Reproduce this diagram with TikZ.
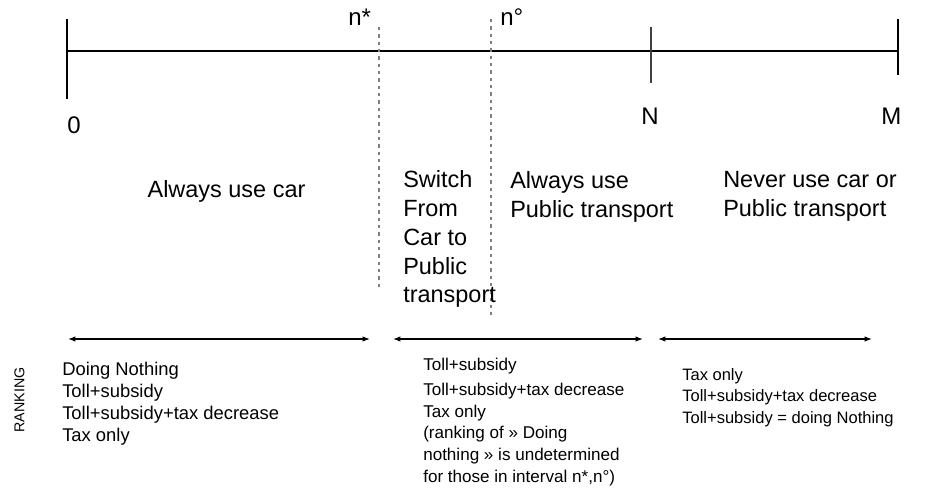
\documentclass[tikz,border=0pt]{standalone}
\usepackage{fontspec}
\setmainfont{Liberation Sans}
\usetikzlibrary{arrows.meta,calc}
\begin{document}
\begin{tikzpicture}[x=0.75pt,y=-0.75pt,
  axis/.style={line width=0.8pt,black},
  divider/.style={gray,line width=0.8pt,dash pattern=on 2.5pt off 3pt},
  span/.style={line width=0.8pt,{Latex[length=5.5pt,width=4pt]}-{Latex[length=5.5pt,width=4pt]}},
  marklabel/.style={anchor=base west,inner sep=0,font=\fontsize{18}{21}\selectfont},
  zone/.style={anchor=north west,inner sep=0,align=left,font=\fontsize{17.6}{21.6}\selectfont},
  rank/.style={anchor=north west,inner sep=0,align=left}
]
\useasboundingbox (0,0) rectangle (948,496);

% axis and its ticks
\coordinate (zero) at (67,51);
\coordinate (nstar) at (379,51);
\coordinate (ncirc) at (491,51);
\coordinate (bigN) at (651,51);
\coordinate (bigM) at (898,51);
\draw[axis] (zero) -- (bigM);
\draw[axis] ($(zero)+(0,-32)$) -- ($(zero)+(0,48)$);
\draw[axis,black!75] ($(bigN)+(0,-24)$) -- ($(bigN)+(0,32)$);
\draw[axis] ($(bigM)+(0,-32)$) -- ($(bigM)+(0,24)$);

% thresholds n* and n°
\draw[divider] ($(nstar)+(0,-24)$) -- ($(nstar)+(0,237)$);
\draw[divider] ($(ncirc)+(0,-32)$) -- ($(ncirc)+(0,264)$);

% axis labels
\node[marklabel] (lnstar) at (348,25) {n*};
\node[marklabel] (lncirc) at (500,25) {n°};
\node[marklabel] (lzero) at (67,133) {0};
\node[marklabel] (lN) at (641,124) {N};
\node[marklabel] (lM) at (881,124) {M};

% behaviour in each interval
\node[zone,anchor=north] (carzone) at (226.5,180) {Always use car};
\node[zone] (switchzone) at (403,170.5) {Switch\\From\\Car to\\Public\\transport};
\node[zone] (ptzone) at (510,171) {Always use\\Public transport};
\node[zone] (nonezone) at (723,171) {Never use car or\\Public transport};

% spans of the rankings
\coordinate (a1) at (68,339);  \coordinate (b1) at (370,339);
\coordinate (a2) at (393,339); \coordinate (b2) at (643,339);
\coordinate (a3) at (658,339); \coordinate (b3) at (872,339);
\draw[span] (a1) -- (b1);
\draw[span] (a2) -- (b2);
\draw[span] (a3) -- (b3);

% rankings
\node[rotate=90,inner sep=0,font=\fontsize{10.7}{12}\selectfont] (ranking) at (19.5,400) {RANKING};
\node[rank,font=\fontsize{13.8}{16.5}\selectfont] (rankleft) at (62,361.8)
  {Doing Nothing\\Toll+subsidy\\Toll+subsidy+tax decrease\\Tax only};
\node[rank,font=\fontsize{12.8}{16.3}\selectfont] (rankmid) at (423,357.8)
  {Toll+subsidy\\[2.5pt]Toll+subsidy+tax decrease\\Tax only\\(ranking of » Doing\\nothing » is undetermined\\for those in interval n*,n°)};
\node[rank,font=\fontsize{12.4}{16.1}\selectfont] (rankright) at (682,368.2)
  {Tax only\\Toll+subsidy+tax decrease\\Toll+subsidy = doing Nothing};
\end{tikzpicture}
\end{document}
